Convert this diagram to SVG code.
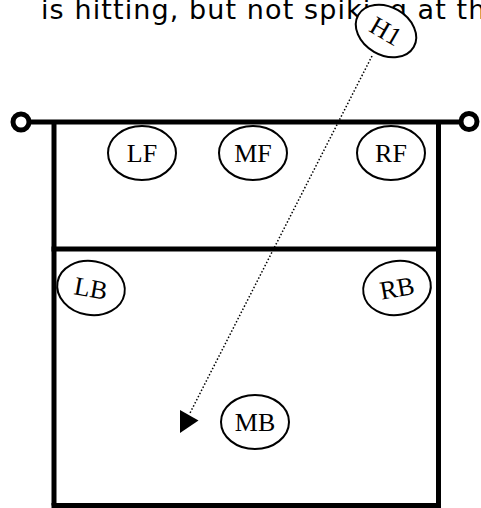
<svg xmlns="http://www.w3.org/2000/svg" width="481" height="508" viewBox="0 0 481 508">
<style>
.court{fill:none;stroke:#000;stroke-width:5}
.post{fill:#fff;stroke:#000;stroke-width:5}
.pl{fill:#fff;stroke:#000;stroke-width:2}
.lbl{font-family:"Liberation Serif","Times New Roman",serif;font-size:26px;fill:#000;text-anchor:middle}
.cap{font-family:"DejaVu Sans",Verdana,sans-serif;font-size:27px;letter-spacing:1.1px;fill:#000}
.path{fill:none;stroke:#000;stroke-width:1.5;stroke-dasharray:1.5 2}
</style>
<rect width="481" height="508" fill="#fff"/>
<text class="cap" x="41" y="18.5">is hitting, but not spiking at th</text>
<g id="court">
<line class="court" x1="28" y1="122" x2="462" y2="122"/>
<line class="court" x1="54" y1="122" x2="54" y2="505.5"/>
<line class="court" x1="438.5" y1="122" x2="438.5" y2="505.5"/>
<line class="court" x1="51.5" y1="249" x2="441" y2="249"/>
<line class="court" x1="51.5" y1="505.5" x2="441" y2="505.5"/>
<circle class="post" cx="21" cy="122" r="8"/>
<circle class="post" cx="469" cy="121.5" r="8"/>
</g>
<g id="connectors">
<line class="path" x1="372" y1="56" x2="190" y2="413"/>
<polygon points="180,410 180,433 198.5,420.5" fill="#000"/>
</g>
<g id="LF"><ellipse class="pl" cx="142" cy="153" rx="34" ry="27"/><text class="lbl" x="142" y="162">LF</text></g>
<g id="MF"><ellipse class="pl" cx="253" cy="153" rx="34" ry="27"/><text class="lbl" x="253" y="162">MF</text></g>
<g id="RF"><ellipse class="pl" cx="391" cy="153" rx="34" ry="27"/><text class="lbl" x="391" y="162">RF</text></g>
<g id="LB" transform="rotate(10 91 288)"><ellipse class="pl" cx="91" cy="288" rx="34" ry="27"/><text class="lbl" x="91" y="297">LB</text></g>
<g id="RB" transform="rotate(-10 397 288)"><ellipse class="pl" cx="397" cy="288" rx="34" ry="27"/><text class="lbl" x="397" y="297">RB</text></g>
<g id="MB"><ellipse class="pl" cx="255" cy="422" rx="34" ry="27"/><text class="lbl" x="255" y="431">MB</text></g>
<g id="H1" transform="rotate(30 386 31)"><ellipse class="pl" cx="386" cy="31" rx="32" ry="24"/><text class="lbl" x="386" y="40">H1</text></g>
</svg>
